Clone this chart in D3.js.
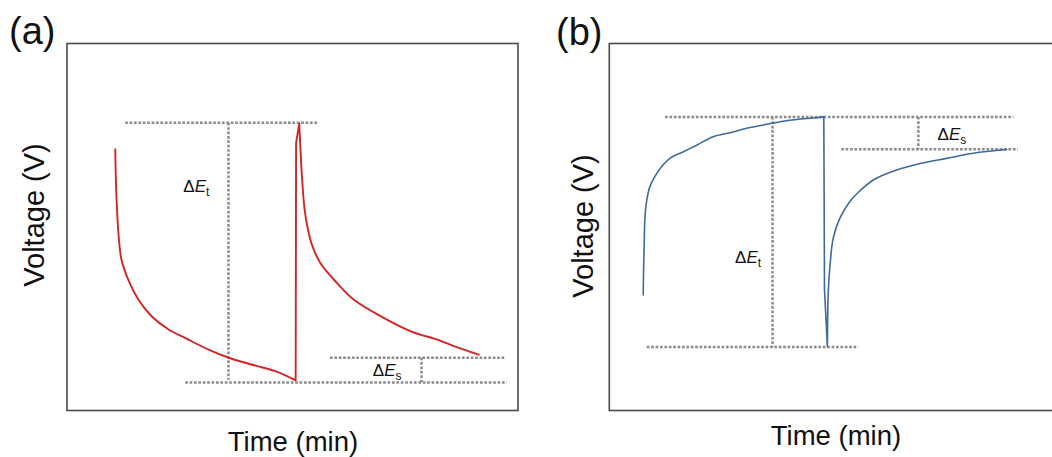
<!DOCTYPE html>
<html>
<head>
<meta charset="utf-8">
<script src="https://cdn.jsdelivr.net/npm/d3@7"></script>
<style>
  body { margin: 0; background: #fff; }
  svg { display: block; font-family: "Liberation Sans", Arial, sans-serif; }
</style>
</head>
<body>
<div id="canvas"></div>
<script>
// panel (a) - red curve, time / voltage in arbitrary units (0-100 of the frame)
var aTime = [10.7, 10.8, 11.0, 11.4, 12.1, 13.6, 15.9, 18.8, 22.6, 26.3, 31.5, 36.0, 41.3, 46.5, 50.7,
             50.8, 51.5, 51.7, 52.1, 52.7, 53.4, 54.3, 56.2, 59.9, 63.7, 69.7, 76.4, 82.4, 86.1, 91.3];
var aVolt = [71.2, 64.6, 57.3, 48.3, 41.0, 35.6, 30.1, 25.6, 22.0, 19.7, 16.5, 14.3, 12.4, 10.6, 8.2,
             72.9, 78.2, 72.8, 63.7, 54.6, 49.5, 45.2, 40.1, 34.7, 30.1, 25.6, 21.5, 19.2, 17.4, 15.2];
// smooth runs (index ranges); the gaps between them are straight jumps
var aRuns = [[0, 14], [17, 29]];

// panel (b) - blue curve
var bTime = [7.6, 7.7, 7.8, 8.0, 8.4, 9.1, 10.2, 11.7, 13.6, 16.6, 19.6, 23.3, 27.1, 30.8, 34.5, 38.3, 42.0, 45.7, 48.0,
             48.1, 48.25, 48.9, 49.1, 49.5, 50.2, 51.7, 53.9, 55.8, 59.2, 64.4, 69.7, 75.6, 81.6, 89.1];
var bVolt = [31.5, 39.2, 43.7, 52.8, 57.3, 61.0, 63.7, 66.4, 68.7, 70.5, 72.3, 74.6, 75.7, 76.9, 77.8, 78.7, 79.3, 79.7, 80.0,
             80.0, 32.9, 17.4, 32.4, 39.7, 46.9, 52.4, 56.9, 59.4, 62.8, 65.5, 67.3, 68.7, 70.1, 71.1];
var bRuns = [[0, 18], [21, 33]];

// dotted guide lines: [t1, t2, v1, v2]
var aGuides = [[12.9, 55.8, 78.4, 78.4], [35.8, 35.8, 78.4, 8.4], [26.2, 97.5, 7.6, 7.6],
               [58.3, 97.1, 14.4, 14.4], [78.6, 78.6, 14.4, 7.6]];
var bGuides = [[12.5, 90.6, 80.0, 80.0], [36.6, 36.6, 80.0, 17.4], [8.4, 55.8, 17.3, 17.3],
               [52.0, 91.6, 71.2, 71.2], [69.3, 69.3, 80.0, 71.2]];

// delta labels: [t, v, subscript]
var aLabels = [[25.8, 59.6, "t"], [67.8, 9.3, "s"]];
var bLabels = [[28.2, 40.1, "t"], [73.6, 73.7, "s"]];

var panelTags = ["(a)", "(b)"];
var xTitle = "Time (min)";
var yTitle = "Voltage (V)";

var svg = d3.select("#canvas")
            .append("svg")
            .attr("width", 1052)
            .attr("height", 457);

var panels = [
    {left: 67, width: 451, tag: panelTags[0], tagX: 9, tagY: 44, ylabX: 44, ylabY: 215, xlabX: 293, xlabY: 451,
     time: aTime, volt: aVolt, runs: aRuns, guides: aGuides, labels: aLabels, color: "#d42424", lw: 1.9},
    {left: 609.3, width: 446, tag: panelTags[1], tagX: 556, tagY: 45, ylabX: 593, ylabY: 226, xlabX: 836, xlabY: 445,
     time: bTime, volt: bVolt, runs: bRuns, guides: bGuides, labels: bLabels, color: "#3e6b9a", lw: 1.6}
];

var frameTop = 43.5, frameH = 367;

for (var p of panels) {

    var x = d3.scaleLinear().domain([0, 100]).range([p.left, p.left + p.width]);
    var y = d3.scaleLinear().domain([0, 100]).range([frameTop + frameH, frameTop]);

    svg.append("rect")
       .attr("x", p.left)
       .attr("y", frameTop)
       .attr("width", p.width)
       .attr("height", frameH)
       .attr("fill", "none")
       .attr("stroke", "#4a4a4a")
       .attr("stroke-width", 1.6);

    for (var g of p.guides) {
        svg.append("line")
           .attr("x1", x(g[0]))
           .attr("x2", x(g[1]))
           .attr("y1", y(g[2]))
           .attr("y2", y(g[3]))
           .attr("stroke", "#8c8c8c")
           .attr("stroke-width", 2.5)
           .attr("stroke-dasharray", "2.7,1.7");
    }

    var pts = p.time.map(function(t, i){ return [t, p.volt[i]]; });
    var smooth = d3.line()
                   .x(function(d){ return x(d[0]); })
                   .y(function(d){ return y(d[1]); })
                   .curve(d3.curveCatmullRom.alpha(0.5));
    var straight = d3.line()
                     .x(function(d){ return x(d[0]); })
                     .y(function(d){ return y(d[1]); });

    // smooth parts and the straight jump between them
    var d = "";
    p.runs.forEach(function(r, k){
        d += smooth(pts.slice(r[0], r[1] + 1));
        if (k < p.runs.length - 1) {
            d += straight(pts.slice(r[1], p.runs[k + 1][0] + 1));
        }
    });

    svg.append("path")
       .attr("d", d)
       .attr("fill", "none")
       .attr("stroke", p.color)
       .attr("stroke-width", p.lw)
       .attr("stroke-linejoin", "round")
       .attr("stroke-linecap", "round");

    for (var l of p.labels) {
        var t = svg.append("text")
                   .attr("x", x(l[0]))
                   .attr("y", y(l[1]))
                   .attr("font-size", 17)
                   .attr("fill", "#111");
        t.append("tspan").text("\u0394");
        t.append("tspan").attr("font-style", "italic").text("E");
        t.append("tspan").attr("font-size", 12).attr("dy", 4).text(l[2]);
    }

    svg.append("text")
       .attr("x", p.tagX)
       .attr("y", p.tagY)
       .attr("font-size", 38)
       .attr("fill", "#111")
       .text(p.tag);

    svg.append("text")
       .attr("transform", "translate(" + p.ylabX + "," + p.ylabY + ") rotate(-90)")
       .attr("text-anchor", "middle")
       .attr("font-size", 29)
       .attr("fill", "#111")
       .text(yTitle);

    svg.append("text")
       .attr("x", p.xlabX)
       .attr("y", p.xlabY)
       .attr("text-anchor", "middle")
       .attr("font-size", 27.5)
       .attr("fill", "#111")
       .text(xTitle);
}
</script>
</body>
</html>
